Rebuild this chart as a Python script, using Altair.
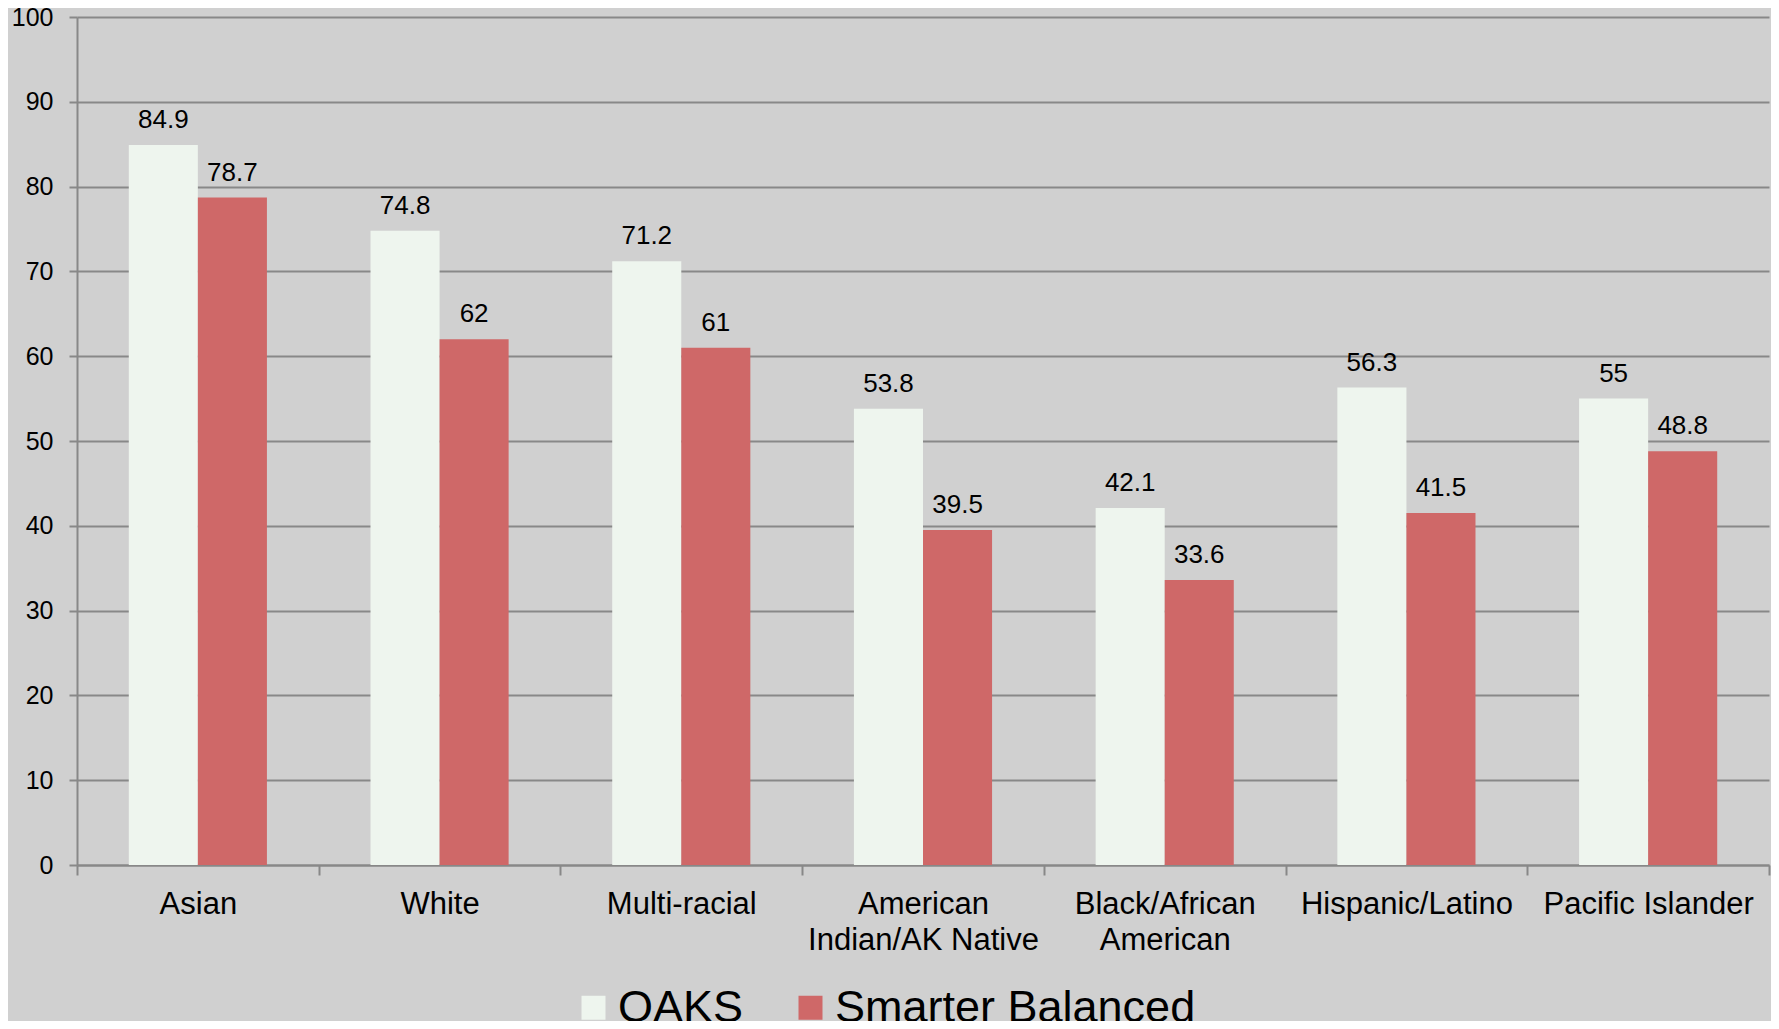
import altair as alt
import pandas as pd

categories = ["Asian", "White", "Multi-racial", "American Indian/AK Native",
              "Black/African American", "Hispanic/Latino", "Pacific Islander"]
oaks = [84.9, 74.8, 71.2, 53.8, 42.1, 56.3, 55]
smarter = [78.7, 62, 61, 39.5, 33.6, 41.5, 48.8]
series = ["OAKS", "Smarter Balanced"]
colors = ["#EEF5EE", "#CF6868"]

rows = []
for c, o, s in zip(categories, oaks, smarter):
    rows.append({"group": c, "series": series[0], "value": o, "label": f"{o:g}"})
    rows.append({"group": c, "series": series[1], "value": s, "label": f"{s:g}"})
df = pd.DataFrame(rows)

FONT = "Liberation Sans"
GRID = "#888888"

label_expr = ("datum.label == 'American Indian/AK Native' ? ['American', 'Indian/AK Native'] : "
              "datum.label == 'Black/African American' ? ['Black/African', 'American'] : datum.label")

x = alt.X("group:N", sort=categories,
          scale=alt.Scale(paddingInner=0, paddingOuter=0),
          axis=alt.Axis(title=None, labelAngle=0, tickBand="extent", ticks=True,
                        tickSize=10, tickColor=GRID, tickWidth=2,
                        domainColor=GRID, domainWidth=2, grid=False,
                        labelFont=FONT, labelFontSize=31, labelColor="#000000",
                        labelPadding=14, labelExpr=label_expr, labelLineHeight=36,
                        labelBaseline="top", labelLimit=400))
xo = alt.XOffset("series:N", sort=series,
                 scale=alt.Scale(paddingInner=0, paddingOuter=0.75))
y = alt.Y("value:Q", scale=alt.Scale(domain=[0, 100], nice=False),
          axis=alt.Axis(title=None, values=list(range(0, 101, 10)), grid=True,
                        gridColor=GRID, gridWidth=2, tickSize=8, tickColor=GRID,
                        tickWidth=2, domainColor=GRID, domainWidth=2,
                        labelFont=FONT, labelFontSize=25, labelColor="#000000",
                        labelPadding=16))
color = alt.Color("series:N", sort=series,
                  scale=alt.Scale(domain=series, range=colors),
                  legend=alt.Legend(title=None, orient="none", direction="horizontal",
                                    legendX=494, legendY=968,
                                    symbolType="square", symbolSize=576,
                                    symbolStrokeWidth=0, labelFont=FONT,
                                    labelFontSize=45, labelColor="#000000",
                                    labelOffset=2, columnPadding=44, padding=0,
                                    labelLimit=600))

bars = alt.Chart(df).mark_bar(strokeWidth=0).encode(x=x, xOffset=xo, y=y, color=color)
text = alt.Chart(df).mark_text(baseline="alphabetic", dy=-17, fontSize=26,
                               font=FONT, color="#000000").encode(
    x=x, xOffset=xo, y=y, text="label:N")

chart = (bars + text).properties(
    width=1692, height=848,
    autosize=alt.AutoSizeParams(type="none"),
    padding={"left": 69, "top": 9, "right": 2, "bottom": 156},
    background="#D0D0D0",
).configure_view(stroke=None)

chart.save("out.html", embed_options={"renderer": "svg", "actions": False})
